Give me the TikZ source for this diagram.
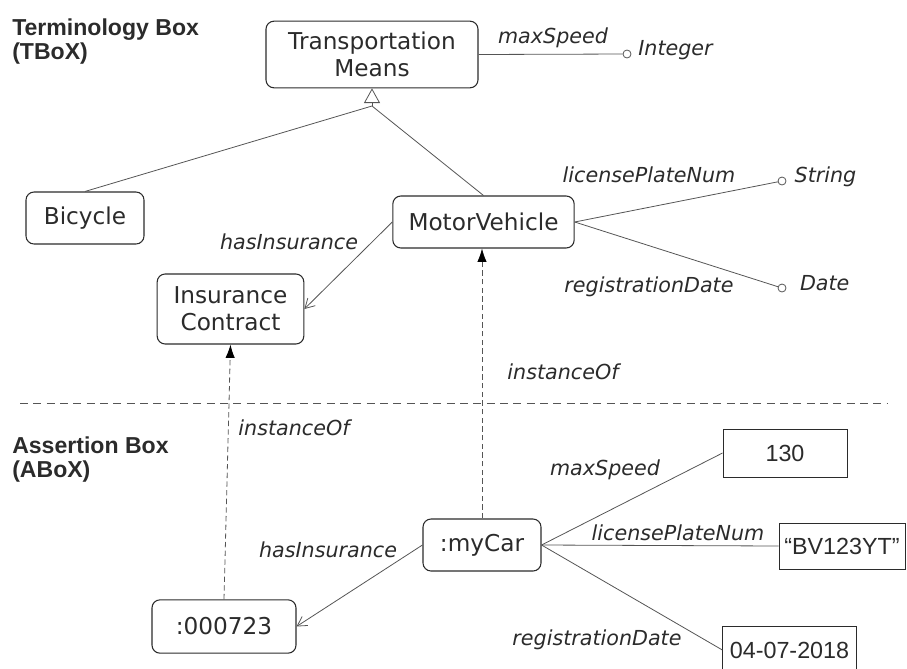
\documentclass[tikz,border=0pt]{standalone}
\usepackage{fontspec}
\setmainfont{DejaVu Sans}
\newfontfamily\litfont{Liberation Sans}
\usetikzlibrary{positioning, arrows.meta}
\definecolor{ink}{HTML}{2B2B2B}
\definecolor{wire}{HTML}{555555}

\begin{document}
\begin{tikzpicture}[x=0.75pt, y=-0.75pt]
\tikzstyle{class}=[rectangle, rounded corners=6pt, draw=ink, line width=0.8pt, text=ink, align=center, font=\fontsize{17.4pt}{20.5pt}\selectfont]
\tikzstyle{literal}=[rectangle, draw=ink, line width=0.7pt, text=ink, font=\litfont\fontsize{17.5pt}{20pt}\selectfont]
\tikzstyle{prop}=[text=ink, inner sep=1pt, font=\itshape\fontsize{15.5pt}{18pt}\selectfont]
\tikzstyle{dot}=[circle, draw=wire, line width=0.6pt, fill=white, inner sep=0pt, minimum size=6pt]
\tikzstyle{heading}=[text=ink, align=left, inner sep=0pt, font=\litfont\bfseries\fontsize{17.3pt}{18pt}\selectfont]
\tikzstyle{connect}=[draw=wire, line width=0.6pt]
\tikzstyle{has}=[connect, -{Straight Barb[length=7pt, width=8pt]}]
\tikzstyle{inst}=[connect, dash pattern=on 4pt off 2.5pt, -{Latex[length=10pt, width=7pt, color=black]}]
\tikzstyle{sep}=[draw=wire, line width=0.7pt, dash pattern=on 6pt off 4pt]
    \clip (0,0) rectangle (907,668);
    % TBox
    \node[heading, anchor=north west] (tbox) at (12,19) {Terminology Box\\(TBoX)};
    \node[class, minimum width=159pt, minimum height=50pt] (tm) at (372,54.5) {Transportation\\Means};
    \node[class, minimum width=88.5pt, minimum height=39pt] (bike) at (85,218) {Bicycle};
    \node[class, minimum width=136pt, minimum height=39pt] (motor) at (483.5,222) {MotorVehicle};
    \node[class, minimum width=110pt, minimum height=52.5pt] (ic) at (230.5,309) {Insurance\\Contract};
    \node[dot] (intc) at (627,54) {};
    \node[prop, right=4pt of intc, yshift=3pt] (intv) {Integer};
    \node[dot] (strc) at (782,181) {};
    \node[prop, right=5pt of strc, yshift=3pt] (strv) {String};
    \node[dot] (datec) at (782,288) {};
    \node[prop, right=9pt of datec, yshift=4pt] (datev) {Date};
    \coordinate (gen) at (372,106);
    \path (bike.north) edge [connect] (gen)
          (motor.north) edge [connect] (gen);
    \draw[connect, -{Triangle[open, length=11pt, width=12pt]}] (gen) -- (tm.south);
    \path (tm.east) edge [connect] (intc)
          (motor.east) edge [connect] (strc)
          (motor.east) edge [connect] (datec)
          (motor.west) edge [has] (ic.east);
    \node[prop] (lms) at (553,38) {maxSpeed};
    \node[prop] (llp) at (649,175) {licensePlateNum};
    \node[prop] (lrd) at (649,287) {registrationDate};
    \node[prop] (lhi) at (289,242) {hasInsurance};
    % separator
    \coordinate (sepl) at (20,403);
    \coordinate (sepr) at (888,403);
    \draw[sep] (sepl) -- (sepr);
    % ABox
    \node[heading, anchor=north west] (abox) at (12,436.5) {Assertion Box\\(ABoX)};
    \node[class, minimum width=88.5pt, minimum height=39pt] (mycar) at (482,545) {:myCar};
    \node[class, minimum width=108pt, minimum height=40pt] (pol) at (224,626.5) {:000723};
    \node[literal, minimum width=93pt, minimum height=36pt] (v130) at (785,453) {130};
    \node[literal, minimum width=94.5pt, minimum height=34.5pt] (vbv) at (842,546) {“BV123YT”};
    \node[literal, minimum width=100pt, minimum height=36pt] (vdate) at (789.5,650) {04-07-2018};
    \path (mycar.east) edge [connect] (v130.west)
          (mycar.east) edge [connect] (vbv.west)
          (mycar.east) edge [connect] (vdate.west)
          (mycar.west) edge [has] (pol.east)
          (mycar.north) edge [inst] (mycar.north |- motor.south)
          (pol.north) edge [inst] (ic.south);
    \node[prop] (lms2) at (605,470) {maxSpeed};
    \node[prop] (llp2) at (678,533) {licensePlateNum};
    \node[prop] (lrd2) at (597,640) {registrationDate};
    \node[prop] (lhi2) at (328,550) {hasInsurance};
    \node[prop] (lio1) at (563,372) {instanceOf};
    \node[prop] (lio2) at (294,428) {instanceOf};
\end{tikzpicture}
\end{document}
